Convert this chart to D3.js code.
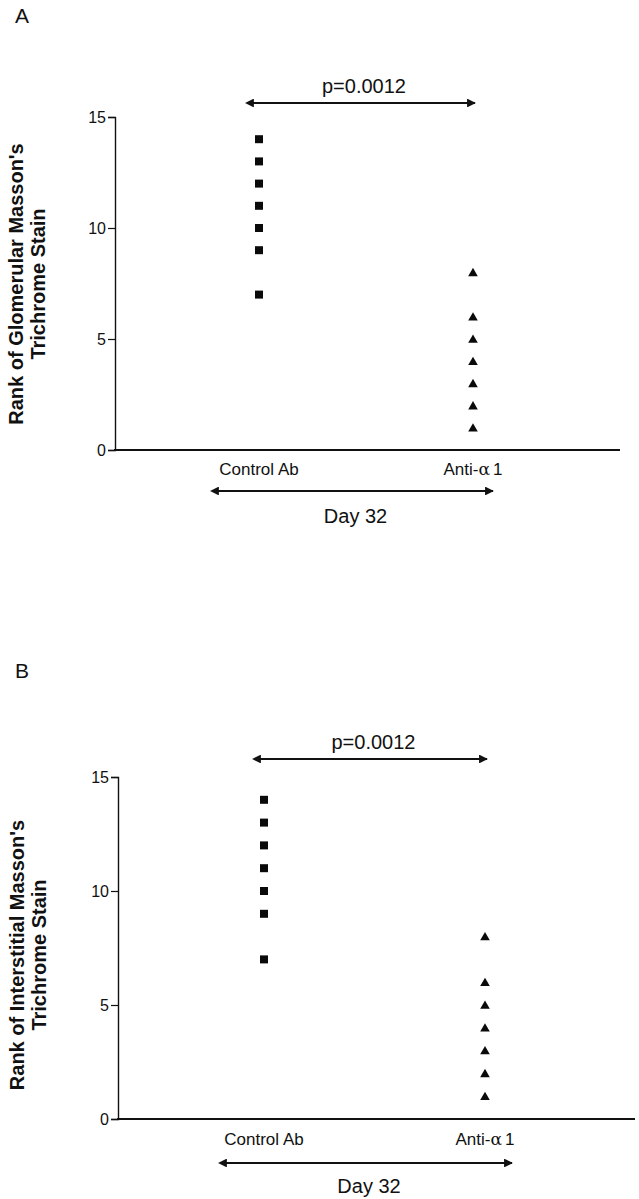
<!DOCTYPE html>
<html>
<head>
<meta charset="utf-8">
<script src="https://cdn.jsdelivr.net/npm/d3@7"></script>
<style>
  body { margin: 0; background: #fff; }
  text { font-family: "Liberation Sans", Arial, sans-serif; fill: #111; }
</style>
</head>
<body>
<script>
// data
var categories = ["Control Ab", "Anti-α1"];
var controlRanksA = [14, 13, 12, 11, 10, 9, 7];
var antiRanksA = [8, 6, 5, 4, 3, 2, 1];
var controlRanksB = [14, 13, 12, 11, 10, 9, 7];
var antiRanksB = [8, 6, 5, 4, 3, 2, 1];
var yTicks = [0, 5, 10, 15];
var pLabel = "p=0.0012";
var dayLabel = "Day 32";

var width = 639;
var height = 1199;

var svg = d3.select("body")
        .append("svg")
        .attr("width", width)
        .attr("height", height);

// arrowhead markers
var defs = svg.append("defs");
["end", "start"].forEach(function(k){
	defs.append("marker")
		.attr("id", "arrow-" + k)
		.attr("viewBox", "0 0 10 10")
		.attr("refX", k == "end" ? 9 : 1)
		.attr("refY", 5)
		.attr("markerWidth", 4.6)
		.attr("markerHeight", 4.4)
		.attr("markerUnits", "strokeWidth")
		.attr("orient", "auto-start-reverse")
		.append("path")
		.attr("d", "M0,0 L10,5 L0,10 Z")
		.attr("fill", "#111");
});

function drawPanel(p, control, anti){

	var yScale = d3.scaleLinear()
	           .domain([0, 15])
	           .range([p.y0, p.y15]);

	var xScale = d3.scalePoint()
	           .domain(categories)
	           .range([p.cx0, p.cx1]);

	// panel letter
	svg.append("text")
		.attr("x", 15)
		.attr("y", p.letterY)
		.style("font-size", "21px")
		.text(p.letter);

	// y axis
	var yAxis = svg.append("g")
	           .attr("transform", `translate(${p.axisX},0)`)
	           .call(d3.axisLeft(yScale).tickValues(yTicks).tickSize(7).tickPadding(2));
	yAxis.select(".domain").attr("stroke", "#111").attr("stroke-width", 1.4);
	yAxis.selectAll(".tick line").attr("stroke", "#111").attr("stroke-width", 1.2);
	yAxis.selectAll(".tick text")
		.style("font-size", "16px")
		.style("font-family", "'Liberation Sans', Arial, sans-serif")
		.attr("fill", "#111");

	// x axis baseline
	svg.append("line")
		.attr("x1", p.axisX - 1)
		.attr("x2", p.axisEnd)
		.attr("y1", yScale(0))
		.attr("y2", yScale(0))
		.attr("stroke", "#111")
		.attr("stroke-width", 2.2);

	// category labels
	var lab = svg.selectAll(null)
		.data(categories)
		.enter()
		.append("text")
		.attr("x", function(d){ return xScale(d); })
		.attr("y", p.catY)
		.attr("text-anchor", "middle")
		.style("font-size", "17px");
	lab.filter(function(d, i){ return i == 0; }).text(function(d){ return d; });
	var anti1 = lab.filter(function(d, i){ return i == 1; });
	anti1.append("tspan").text("Anti-");
	anti1.append("tspan").style("font-family", "'DejaVu Serif', serif").style("font-size", "17px").text("α");
	anti1.append("tspan").attr("dx", 3).text("1");

	// y label, two lines
	var yl = svg.append("text")
		.attr("transform", `translate(${p.ylabX},${p.ylabY}) rotate(-90)`)
		.attr("text-anchor", "middle")
		.style("font-size", "20px")
		.style("font-weight", "bold");
	yl.append("tspan").attr("x", 0).attr("dy", 0).text(p.ylab1);
	yl.append("tspan").attr("x", 0).attr("dy", 22).text("Trichrome Stain");

	// points
	svg.selectAll(null)
		.data(control)
		.enter()
		.append("path")
		.attr("transform", function(d){ return `translate(${xScale(categories[0])},${yScale(d)})`; })
		.attr("d", d3.symbol().type(d3.symbolSquare).size(64))
		.attr("fill", "#0a0a0a");

	svg.selectAll(null)
		.data(anti)
		.enter()
		.append("path")
		.attr("transform", function(d){ return `translate(${xScale(categories[1])},${yScale(d) + 1})`; })
		.attr("d", d3.symbol().type(d3.symbolTriangle).size(40))
		.attr("fill", "#0a0a0a");

	// comparison arrow with p value
	svg.append("line")
		.attr("x1", p.topA0).attr("x2", p.topA1)
		.attr("y1", p.topY).attr("y2", p.topY)
		.attr("stroke", "#111")
		.attr("stroke-width", 2)
		.attr("marker-start", "url(#arrow-start)")
		.attr("marker-end", "url(#arrow-end)");

	svg.append("text")
		.attr("x", (p.topA0 + p.topA1) / 2)
		.attr("y", p.topY - 10)
		.attr("text-anchor", "middle")
		.style("font-size", "20px")
		.text(pLabel);

	// day arrow
	svg.append("line")
		.attr("x1", p.botA0).attr("x2", p.botA1)
		.attr("y1", p.botY).attr("y2", p.botY)
		.attr("stroke", "#111")
		.attr("stroke-width", 2)
		.attr("marker-start", "url(#arrow-start)")
		.attr("marker-end", "url(#arrow-end)");

	svg.append("text")
		.attr("x", (p.botA0 + p.botA1) / 2)
		.attr("y", p.dayY)
		.attr("text-anchor", "middle")
		.style("font-size", "20px")
		.text(dayLabel);
}

drawPanel({
	letter: "A", letterY: 23,
	y0: 450, y15: 117, axisX: 115, axisEnd: 620,
	cx0: 259, cx1: 473, catY: 475,
	ylabX: 23, ylabY: 284, ylab1: "Rank of Glomerular Masson's",
	topA0: 253, topA1: 475, topY: 103,
	botA0: 218, botA1: 493, botY: 491, dayY: 523
}, controlRanksA, antiRanksA);

drawPanel({
	letter: "B", letterY: 678,
	y0: 1119, y15: 777, axisX: 118, axisEnd: 635,
	cx0: 264, cx1: 485, catY: 1145,
	ylabX: 24, ylabY: 955, ylab1: "Rank of Interstitial Masson's",
	topA0: 260, topA1: 487, topY: 759,
	botA0: 226, botA1: 512, botY: 1163, dayY: 1193
}, controlRanksB, antiRanksB);
</script>
</body>
</html>
